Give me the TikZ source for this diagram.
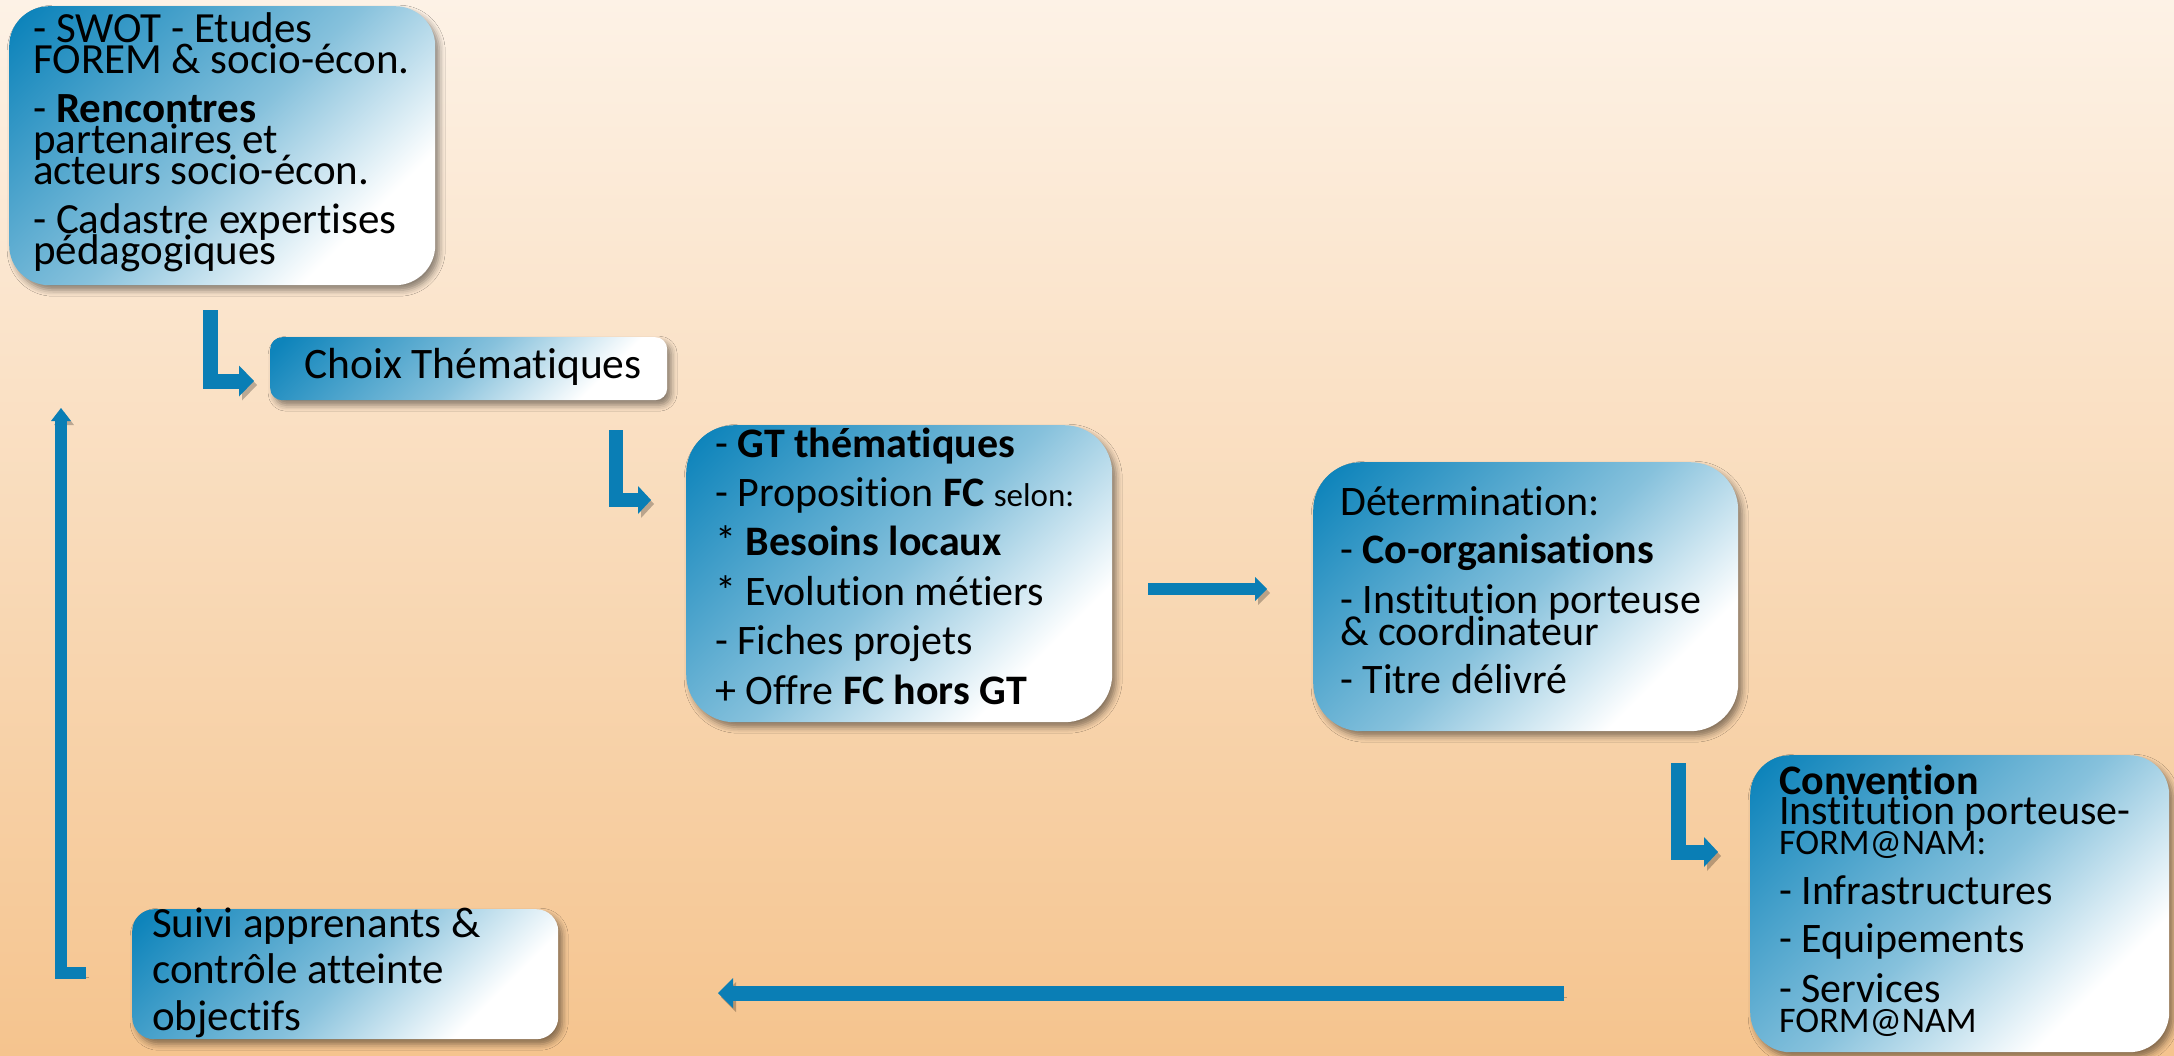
\documentclass[tikz,border=0pt]{standalone}
\usepackage{fontspec}
\setmainfont{Carlito}[Ligatures=NoCommon]
\usetikzlibrary{arrows.meta,shadows.blur}
\definecolor{bgtop}{HTML}{FDF2E6}
\definecolor{bgbot}{HTML}{F5C48E}
\definecolor{bdark}{HTML}{0E84BB}
\definecolor{bmid}{HTML}{86C1DC}
\definecolor{arrowblue}{HTML}{0A7EB5}
\pgfdeclarehorizontalshading{boxgrad}{100bp}{color(0bp)=(bdark); color(17bp)=(bdark); color(50bp)=(bmid); color(72bp)=(white); color(100bp)=(white)}
\newcommand\txtstack[2]{\vtop{\baselineskip=#1\lineskiplimit=-1000pt\lineskip=0pt\relax #2}}
\newcommand\fs[1]{\fontsize{#1}{#1}\selectfont}
\begin{document}
\begin{tikzpicture}[x=1pt,y=-1pt,
  box/.style={rectangle, rounded corners=#1, shade, shading=boxgrad, shading angle=-45,
    inner sep=0pt, anchor=north west,
    blur shadow={shadow xshift=4pt, shadow yshift=-5pt, shadow blur radius=6pt, shadow opacity=45}},
  txt/.style={anchor=base west, inner sep=0pt, text=black},
  arr/.style={draw=arrowblue, line width=#1, line join=miter, line cap=butt,
    preaction={draw=black, opacity=0.25, transform canvas={shift={(3pt,-4pt)}}}},
  ]
\useasboundingbox (0,0) rectangle (2174,1055);
\shade[top color=bgtop, bottom color=bgbot] (0,0) rectangle (2174,1055);

% boxes
\node[box=40pt, minimum width=426pt, minimum height=279pt] (b1) at (9,6) {};
\node[txt, font=\fs{43}] (t1) at (33,42) {\txtstack{31pt}{%
  \hbox{- SWOT - Etudes}\hbox{FOREM \& socio-écon.}\vskip18pt
  \hbox{- \textbf{Rencontres}}\hbox{partenaires et}\hbox{acteurs socio-écon.}\vskip18pt
  \hbox{- Cadastre expertises}\hbox{pédagogiques}}};

\node[box=12pt, minimum width=397pt, minimum height=63pt] (b2) at (270,337) {};
\node[txt, font=\fs{43.5}] (t2) at (304,378) {Choix Thématiques};

\node[box=48pt, minimum width=426pt, minimum height=297pt] (b3) at (686,425) {};
\node[txt, font=\fs{42}] (t3) at (715,457) {\txtstack{49.4pt}{%
  \hbox{- \textbf{GT thématiques}}
  \hbox{- Proposition \textbf{FC} {\fs{33}selon:}}
  \hbox{* \textbf{Besoins locaux}}
  \hbox{* Evolution métiers}
  \hbox{- Fiches projets}
  \hbox{+ Offre \textbf{FC hors GT}}}};

\node[box=48pt, minimum width=425pt, minimum height=269pt] (b4) at (1313,462) {};
\node[txt, font=\fs{42}] (t4) at (1340,515) {\txtstack{32pt}{%
  \hbox{Détermination:}\vskip16pt
  \hbox{- \textbf{Co-organisations}}\vskip18pt
  \hbox{- Institution porteuse}\hbox{\& coordinateur}\vskip16pt
  \hbox{- Titre délivré}}};

\node[box=40pt, minimum width=419pt, minimum height=297pt] (b5) at (1750,755) {};
\node[txt, font=\fs{42}] (t5) at (1779,794) {\txtstack{30pt}{%
  \hbox{\textbf{Convention}}\hbox{Institution porteuse-}\hbox{\fs{36}FORM@NAM:}\vskip20pt
  \hbox{- Infrastructures}\vskip18pt
  \hbox{- Equipements}\vskip20pt
  \hbox{- Services}\hbox{\fs{36}FORM@NAM}}};

\node[box=22pt, minimum width=426pt, minimum height=130pt] (b6) at (132,909) {};
\node[txt, font=\fs{43}] (t6) at (152,937) {\txtstack{46.5pt}{%
  \hbox{Suivi apprenants \&}\hbox{contrôle atteinte}\hbox{objectifs}}};

% connectors
\coordinate (a1s) at (210,310); \coordinate (a1c) at (210,381); \coordinate (a1e) at (254,381);
\coordinate (a2s) at (616,430); \coordinate (a2c) at (616,500); \coordinate (a2e) at (651,500);
\coordinate (a3s) at (1678,763); \coordinate (a3c) at (1678,852); \coordinate (a3e) at (1718,852);
\coordinate (a4s) at (1148,589); \coordinate (a4e) at (1267,589);
\coordinate (a5s) at (1564,993); \coordinate (a5e) at (718,993);
\coordinate (a6s) at (86,973); \coordinate (a6c) at (61,973); \coordinate (a6e) at (61,408);

\draw[arr=15pt, -{Triangle[length=15pt,width=31pt,line width=0pt]}] (a1s) -- (a1c) -- (a1e);
\draw[arr=14pt, -{Triangle[length=13pt,width=28pt,line width=0pt]}] (a2s) -- (a2c) -- (a2e);
\draw[arr=15pt, -{Triangle[length=14pt,width=30pt,line width=0pt]}] (a3s) -- (a3c) -- (a3e);
\draw[arr=12pt, -{Triangle[length=12pt,width=24pt,line width=0pt]}] (a4s) -- (a4e);
\draw[arr=15pt, -{Triangle[length=15pt,width=30pt,line width=0pt]}] (a5s) -- (a5e);
\draw[arr=12.5pt, -{Triangle[length=13pt,width=20pt,line width=0pt]}] (a6s) -- (a6c) -- (a6e);
\end{tikzpicture}
\end{document}
